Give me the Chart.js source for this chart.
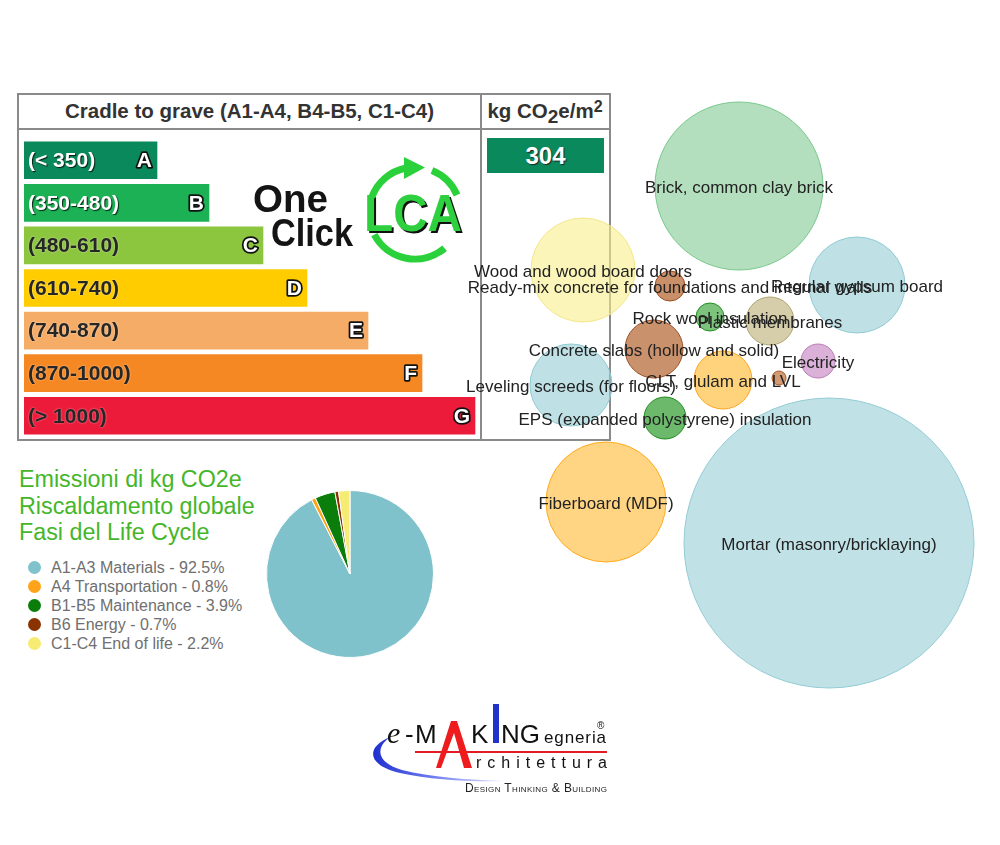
<!DOCTYPE html>
<html>
<head>
<meta charset="utf-8">
<script src="https://cdn.jsdelivr.net/npm/chart.js@4.4.1/dist/chart.umd.min.js"></script>
<style>
  body { margin: 0; background: #fff; font-family: 'Liberation Sans', Arial, sans-serif; }
  #page { position: relative; width: 1000px; height: 845px; overflow: hidden; background: #fff; }
  .box { position: absolute; border: 2px solid #8a8a8a; box-sizing: border-box; }
  .hdr { position: absolute; text-align: center; font-weight: bold; font-size: 20.5px; color: #333; white-space: nowrap; }
  .hdr .lo { position: relative; top: 5px; font-size: 19px; }
  .hdr .hi { position: relative; top: -6px; font-size: 16px; }
  #result { position: absolute; left: 487px; top: 138px; width: 117px; height: 35px; background: #0a8a5c;
            color: #fff; font-weight: bold; font-size: 24px; line-height: 36px; text-align: center;
            text-shadow: 1px 1px 1px #222; }
  canvas { position: absolute; }
  #rating-chart { left: 24px; top: 139px; z-index: 2; }
  #bubble-chart { left: 450px; top: 90px; z-index: 5; }
  #phase-pie { left: 266px; top: 490px; z-index: 2; }
  #pie-title { position: absolute; left: 19px; top: 466px; color: #45b62a; font-size: 23.3px; line-height: 26.5px; }
  #pie-legend { position: absolute; left: 28px; top: 558px; color: #6f6f6f; font-size: 16px; }
  #pie-legend .row { height: 19px; line-height: 19px; white-space: nowrap; }
  #pie-legend .dot { display: inline-block; width: 13px; height: 13px; border-radius: 50%; vertical-align: -1px; margin-right: 10px; }
  #logos { position: absolute; left: 0; top: 0; z-index: 3; }
</style>
</head>
<body>
<div id="page">
  <div class="box" style="left:17px;top:93px;width:465px;height:348px"></div>
  <div class="box" style="left:480px;top:93px;width:131px;height:348px"></div>
  <div style="position:absolute;left:17px;top:128px;width:594px;height:2px;background:#8a8a8a"></div>
  <div class="hdr" style="left:19px;width:461px;top:99px">Cradle to grave (A1-A4, B4-B5, C1-C4)</div>
  <div class="hdr" style="left:482px;width:126px;top:99px">kg CO<span class="lo">2</span>e/m<span class="hi">2</span></div>
  <div id="result"></div>

  <canvas id="rating-chart" width="456" height="298"></canvas>

  <svg id="logos" width="1000" height="845" viewBox="0 0 1000 845">
    <defs>
      <linearGradient id="swoosh" x1="0" y1="0" x2="1" y2="0">
        <stop offset="0" stop-color="#1f2fd0"/>
        <stop offset="0.45" stop-color="#6f7cf0"/>
        <stop offset="1" stop-color="#e4e7ff"/>
      </linearGradient>
    </defs>
    <!-- One Click LCA -->
    <g font-family="'Liberation Sans', Arial, sans-serif" font-weight="bold">
      <text x="253" y="212" font-size="39" fill="#141414" textLength="75" lengthAdjust="spacingAndGlyphs">One</text>
      <text x="271" y="246" font-size="39" fill="#141414" textLength="82" lengthAdjust="spacingAndGlyphs">Click</text>
      <text x="366" y="233" font-size="52" fill="#111" textLength="98" lengthAdjust="spacingAndGlyphs">LCA</text>
      <text x="364" y="231" font-size="52" fill="#2fd03f" textLength="98" lengthAdjust="spacingAndGlyphs">LCA</text>
    </g>
    <g fill="none" stroke="#2bd13a" stroke-width="7">
      <path d="M 371.8 197.3 A 46 46 0 0 1 406 168"/>
      <path d="M 432 170.5 A 46 46 0 0 1 457 195"/>
      <path d="M 444.6 248.2 A 46 46 0 0 1 374.3 234.6"/>
    </g>
    <polygon points="404,157 425,167.5 404,179" fill="#2bd13a"/>

    <!-- e-MAKING logo -->
    <path d="M 390 737 C 366 747 366 765 400 773 C 432 780 470 782 505 781 C 468 780 430 777 402 770 C 378 763 374 749 390 737 Z" fill="url(#swoosh)"/>
    <g font-family="'Liberation Sans', Arial, sans-serif" fill="#111">
      <text x="387" y="743" font-size="30" font-style="italic" font-family="'Liberation Serif', serif">e</text>
      <text x="405" y="743" font-size="26">-</text>
      <text x="415" y="743" font-size="26">M</text>
      <text x="471" y="743" font-size="26">K</text>
      <text x="501" y="743" font-size="26">NG</text>
      <text x="544" y="743" font-size="17" textLength="62" lengthAdjust="spacing">egneria</text>
      <text x="597" y="729" font-size="10">®</text>
      <text x="476" y="768" font-size="16" textLength="131" lengthAdjust="spacing">rchitettura</text>
      <text x="465" y="792" font-size="12" style="font-variant: small-caps" textLength="142" lengthAdjust="spacing" fill="#222">Design Thinking &amp; Building</text>
    </g>
    <rect x="415" y="751" width="192" height="2" fill="#e31b23"/>
    <polygon points="436,768 451,721 457,721 472,768 464,768 454,733 441,768" fill="#ee1c1c"/>
    <rect x="493" y="704" width="6" height="39" fill="#2233cc"/>
  </svg>

  <canvas id="bubble-chart" width="540" height="610"></canvas>

  <div id="pie-title">Emissioni di kg CO2e<br>Riscaldamento globale<br>Fasi del Life Cycle</div>
  <div id="pie-legend"></div>
  <canvas id="phase-pie" width="168" height="168"></canvas>
</div>

<script>
// rating scale (kg CO2e/m2)
const ratingClasses = ['A', 'B', 'C', 'D', 'E', 'F', 'G'];
const ratingRanges = ['(< 350)', '(350-480)', '(480-610)', '(610-740)', '(740-870)', '(870-1000)', '(> 1000)'];
const ratingBarValues = [133, 185, 239, 283, 344, 398, 451];
const resultValue = 304;

// life cycle phases
const phaseLabels = ['A1-A3 Materials', 'A4 Transportation', 'B1-B5 Maintenance', 'B6 Energy', 'C1-C4 End of life'];
const phaseShare = [92.5, 0.8, 3.9, 0.7, 2.2];

// materials bubble chart
const materialNames = [
  'Brick, common clay brick', 'Regular gypsum board', 'Wood and wood board doors',
  'Ready-mix concrete for foundations and internal walls', 'Rock wool insulation', 'Plastic membranes',
  'Concrete slabs (hollow and solid)', 'Electricity', 'CLT, glulam and LVL', '',
  'Leveling screeds (for floors)', 'EPS (expanded polystyrene) insulation', 'Fiberboard (MDF)',
  'Mortar (masonry/bricklaying)'
];
const materialX = [289, 407, 133, 220, 260, 320, 204, 368, 273, 329, 121, 215, 156, 379];
const materialY = [96, 195, 180, 196, 227, 231, 259, 271, 290, 288, 295, 328, 412, 453];
const materialR = [84, 48, 52, 15, 14, 24, 29, 17, 29, 7, 41, 21, 60, 145];

const RATING_COLORS = ['#0a8a5c', '#1db155', '#8cc63f', '#ffcc00', '#f5ac66', '#f68823', '#ed1b3a'];
const PHASE_COLORS = ['#7fc2cb', '#ffa319', '#0a7d0a', '#8b3300', '#f6ec73'];
const BUBBLE_FILL = [
  'rgba(128,202,147,0.6)', 'rgba(148,205,213,0.6)', 'rgba(248,238,138,0.6)',
  'rgba(165,68,3,0.6)', 'rgba(38,155,38,0.6)', 'rgba(187,173,115,0.6)',
  'rgba(165,73,12,0.6)', 'rgba(197,125,192,0.6)', 'rgba(255,180,37,0.6)', 'rgba(177,87,20,0.6)',
  'rgba(148,205,213,0.6)', 'rgba(10,138,10,0.6)', 'rgba(255,185,48,0.6)', 'rgba(150,205,213,0.6)'
];
const BUBBLE_BORDER = [
  '#78c88b', '#8fcad3', '#f2e68c', '#9c4d1f', '#1f8f1f', '#aea46f',
  '#9b5024', '#b77bb2', '#ffa41b', '#a4582a', '#8fcad3', '#1f8a1f', '#ffab1f', '#93ccd5'
];

const FONT = '"Liberation Sans", Arial, sans-serif';

const ratingText = {
  id: 'ratingText',
  afterDatasetsDraw(chart) {
    const ctx = chart.ctx;
    const meta = chart.getDatasetMeta(0);
    ctx.save();
    ctx.font = `bold 21px ${FONT}`;
    ctx.textBaseline = 'middle';
    ctx.lineJoin = 'round';
    meta.data.forEach((bar, i) => {
      const y = bar.y + 1;
      ctx.textAlign = 'left';
      if (i < 2) {
        ctx.shadowColor = 'rgba(0,0,0,0.8)';
        ctx.shadowOffsetX = 1;
        ctx.shadowOffsetY = 1;
        ctx.shadowBlur = 1;
        ctx.fillStyle = '#fff';
      } else {
        ctx.shadowColor = 'rgba(255,255,255,0.6)';
        ctx.shadowOffsetX = 0;
        ctx.shadowOffsetY = 0;
        ctx.shadowBlur = 2;
        ctx.fillStyle = '#262626';
      }
      ctx.fillText(ratingRanges[i], bar.base + 4, y);
      ctx.shadowColor = 'transparent';
      ctx.textAlign = 'right';
      ctx.strokeStyle = '#111';
      ctx.lineWidth = 3.5;
      ctx.strokeText(ratingClasses[i], bar.x - 5, y);
      ctx.fillStyle = '#fff';
      ctx.fillText(ratingClasses[i], bar.x - 5, y);
    });
    ctx.restore();
  }
};

const bubbleLabels = {
  id: 'bubbleLabels',
  afterDatasetsDraw(chart) {
    const ctx = chart.ctx;
    const meta = chart.getDatasetMeta(0);
    ctx.save();
    ctx.font = `17px ${FONT}`;
    ctx.fillStyle = '#222';
    ctx.textAlign = 'center';
    ctx.textBaseline = 'middle';
    meta.data.forEach((pt, i) => {
      if (materialNames[i]) ctx.fillText(materialNames[i], pt.x, pt.y + 2);
    });
    ctx.restore();
  }
};

function renderRatingChart() {
  const ctx = document.getElementById('rating-chart').getContext('2d');
  new Chart(ctx, {
    type: 'bar',
    data: {
      labels: ratingClasses,
      datasets: [{
        data: ratingBarValues,
        backgroundColor: RATING_COLORS,
        barThickness: 37,
        borderWidth: 0
      }]
    },
    options: {
      indexAxis: 'y',
      responsive: false,
      animation: false,
      layout: { padding: 0, autoPadding: false },
      plugins: { legend: { display: false }, tooltip: { enabled: false } },
      scales: {
        x: { display: false, min: 0, max: 456 },
        y: { display: false }
      }
    },
    plugins: [ratingText]
  });
  document.getElementById('result').textContent = resultValue;
}

function renderBubbleChart() {
  const ctx = document.getElementById('bubble-chart').getContext('2d');
  new Chart(ctx, {
    type: 'bubble',
    data: {
      datasets: [{
        data: materialNames.map((n, i) => ({ x: materialX[i], y: materialY[i], r: materialR[i] })),
        backgroundColor: BUBBLE_FILL,
        borderColor: BUBBLE_BORDER,
        borderWidth: 1,
        clip: false
      }]
    },
    options: {
      responsive: false,
      animation: false,
      layout: { padding: 0, autoPadding: false },
      plugins: { legend: { display: false }, tooltip: { enabled: false } },
      scales: {
        x: { display: false, min: 0, max: 540 },
        y: { display: false, min: 0, max: 610, reverse: true }
      }
    },
    plugins: [bubbleLabels]
  });
}

function renderPhasePie() {
  const ctx = document.getElementById('phase-pie').getContext('2d');
  new Chart(ctx, {
    type: 'pie',
    data: {
      labels: phaseLabels,
      datasets: [{
        data: phaseShare,
        backgroundColor: PHASE_COLORS,
        borderColor: '#fff',
        borderWidth: 1
      }]
    },
    options: {
      responsive: false,
      animation: false,
      layout: { padding: 0 },
      plugins: { legend: { display: false }, tooltip: { enabled: false } }
    }
  });

  const legend = document.getElementById('pie-legend');
  legend.innerHTML = phaseLabels.map((l, i) =>
    `<div class="row"><span class="dot" style="background:${PHASE_COLORS[i]}"></span>${l} - ${phaseShare[i]}%</div>`
  ).join('');
}

document.addEventListener('DOMContentLoaded', () => {
  renderRatingChart();
  renderBubbleChart();
  renderPhasePie();
});
</script>
</body>
</html>
